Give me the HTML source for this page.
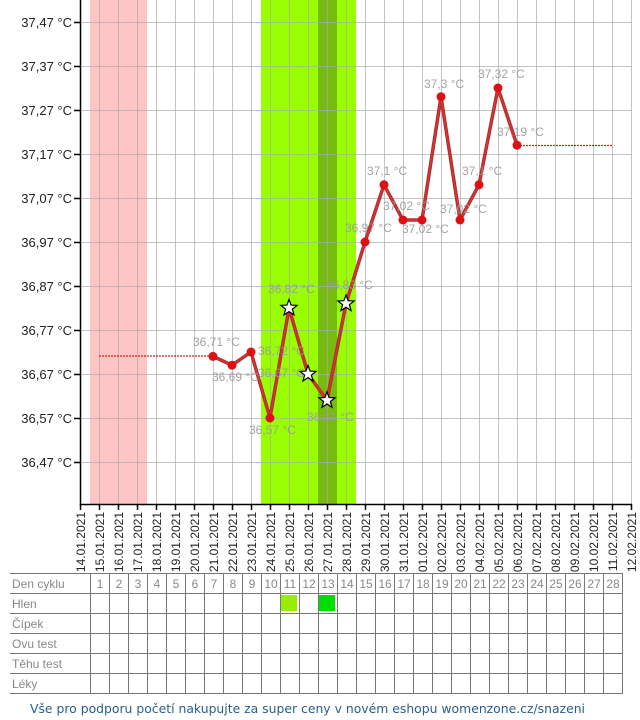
<!DOCTYPE html>
<html><head><meta charset="utf-8"><style>
html,body{margin:0;padding:0;background:#fff;}
svg{display:block;}
text{font-family:"Liberation Sans",Arial,sans-serif;}
</style></head><body>
<svg width="640" height="720" viewBox="0 0 640 720" xmlns="http://www.w3.org/2000/svg">
<defs><path id="st" d="M0,-8.5 L2.1,-2.9 8.1,-2.6 3.4,1.1 5,6.9 0,3.6 -5,6.9 -3.4,1.1 -8.1,-2.6 -2.1,-2.9Z" fill="#fff" stroke="#000" stroke-width="1.2"/></defs>
<rect x="90" y="0" width="57" height="504" fill="#ffc4c4"/>
<rect x="261" y="0" width="95" height="504" fill="#99ff00"/>
<rect x="318" y="0" width="19" height="504" fill="#77bb11"/>
<g stroke="#aaa" stroke-opacity="0.7" stroke-width="1" fill="none">
<path d="M99.5,0V504M118.5,0V504M137.5,0V504M156.5,0V504M175.5,0V504M194.5,0V504M213.5,0V504M232.5,0V504M251.5,0V504M270.5,0V504M289.5,0V504M308.5,0V504M327.5,0V504M346.5,0V504M365.5,0V504M384.5,0V504M403.5,0V504M422.5,0V504M441.5,0V504M460.5,0V504M479.5,0V504M498.5,0V504M517.5,0V504M536.5,0V504M555.5,0V504M574.5,0V504M593.5,0V504M612.5,0V504M631.5,0V504"/>
<path d="M80,22.5H632M80,66.5H632M80,110.5H632M80,154.5H632M80,198.5H632M80,242.5H632M80,286.5H632M80,330.5H632M80,374.5H632M80,418.5H632M80,462.5H632"/>
</g>
<g stroke="#000" stroke-width="1.5" fill="none">
<path d="M80.5,0V504.5H632"/>
<path d="M74,22.5H80M74,66.5H80M74,110.5H80M74,154.5H80M74,198.5H80M74,242.5H80M74,286.5H80M74,330.5H80M74,374.5H80M74,418.5H80M74,462.5H80"/>
<path d="M80.5,504V510M99.5,504V510M118.5,504V510M137.5,504V510M156.5,504V510M175.5,504V510M194.5,504V510M213.5,504V510M232.5,504V510M251.5,504V510M270.5,504V510M289.5,504V510M308.5,504V510M327.5,504V510M346.5,504V510M365.5,504V510M384.5,504V510M403.5,504V510M422.5,504V510M441.5,504V510M460.5,504V510M479.5,504V510M498.5,504V510M517.5,504V510M536.5,504V510M555.5,504V510M574.5,504V510M593.5,504V510M612.5,504V510M631.5,504V510"/>
</g>
<g font-size="13" fill="#222" text-anchor="end">
<text x="72" y="27">37,47 °C</text><text x="72" y="71">37,37 °C</text><text x="72" y="115">37,27 °C</text><text x="72" y="159">37,17 °C</text><text x="72" y="203">37,07 °C</text><text x="72" y="247">36,97 °C</text><text x="72" y="291">36,87 °C</text><text x="72" y="335">36,77 °C</text><text x="72" y="379">36,67 °C</text><text x="72" y="423">36,57 °C</text><text x="72" y="467">36,47 °C</text>
</g>
<g font-size="12" fill="#222" text-anchor="end">
<text transform="translate(85,512) rotate(-90)">14.01.2021</text>
<text transform="translate(104,512) rotate(-90)">15.01.2021</text>
<text transform="translate(123,512) rotate(-90)">16.01.2021</text>
<text transform="translate(142,512) rotate(-90)">17.01.2021</text>
<text transform="translate(161,512) rotate(-90)">18.01.2021</text>
<text transform="translate(180,512) rotate(-90)">19.01.2021</text>
<text transform="translate(199,512) rotate(-90)">20.01.2021</text>
<text transform="translate(218,512) rotate(-90)">21.01.2021</text>
<text transform="translate(237,512) rotate(-90)">22.01.2021</text>
<text transform="translate(256,512) rotate(-90)">23.01.2021</text>
<text transform="translate(275,512) rotate(-90)">24.01.2021</text>
<text transform="translate(294,512) rotate(-90)">25.01.2021</text>
<text transform="translate(313,512) rotate(-90)">26.01.2021</text>
<text transform="translate(332,512) rotate(-90)">27.01.2021</text>
<text transform="translate(351,512) rotate(-90)">28.01.2021</text>
<text transform="translate(370,512) rotate(-90)">29.01.2021</text>
<text transform="translate(389,512) rotate(-90)">30.01.2021</text>
<text transform="translate(408,512) rotate(-90)">31.01.2021</text>
<text transform="translate(427,512) rotate(-90)">01.02.2021</text>
<text transform="translate(446,512) rotate(-90)">02.02.2021</text>
<text transform="translate(465,512) rotate(-90)">03.02.2021</text>
<text transform="translate(484,512) rotate(-90)">04.02.2021</text>
<text transform="translate(503,512) rotate(-90)">05.02.2021</text>
<text transform="translate(522,512) rotate(-90)">06.02.2021</text>
<text transform="translate(541,512) rotate(-90)">07.02.2021</text>
<text transform="translate(560,512) rotate(-90)">08.02.2021</text>
<text transform="translate(579,512) rotate(-90)">09.02.2021</text>
<text transform="translate(598,512) rotate(-90)">10.02.2021</text>
<text transform="translate(617,512) rotate(-90)">11.02.2021</text>
<text transform="translate(636,512) rotate(-90)">12.02.2021</text>
</g>
<path d="M99,356H213M517,145.5H612" stroke="#cc2222" stroke-width="1.2" stroke-dasharray="2,1" fill="none"/>
<polyline points="213,356.4 232,365.2 251,352 270,418 289,308 308,374 327,400.4 346,303.6 365,242 384,184.8 403,220 422,220 441,96.8 460,220 479,184.8 498,88 517,145.2" fill="none" stroke="#a83030" stroke-width="3.5" stroke-linejoin="round"/>
<polyline points="213,356.4 232,365.2 251,352 270,418 289,308 308,374 327,400.4 346,303.6 365,242 384,184.8 403,220 422,220 441,96.8 460,220 479,184.8 498,88 517,145.2" fill="none" stroke="#dd3030" stroke-width="1.5" stroke-linejoin="round"/>
<g fill="#dd1111">
<circle cx="213" cy="356.4" r="4.5"/><circle cx="232" cy="365.2" r="4.5"/><circle cx="251" cy="352" r="4.5"/><circle cx="270" cy="418" r="4.5"/><circle cx="365" cy="242" r="4.5"/><circle cx="384" cy="184.8" r="4.5"/><circle cx="403" cy="220" r="4.5"/><circle cx="422" cy="220" r="4.5"/><circle cx="441" cy="96.8" r="4.5"/><circle cx="460" cy="220" r="4.5"/><circle cx="479" cy="184.8" r="4.5"/><circle cx="498" cy="88" r="4.5"/><circle cx="517" cy="145.2" r="4.5"/>
</g>
<use href="#st" x="289" y="308"/><use href="#st" x="308" y="374"/><use href="#st" x="327" y="400.4"/><use href="#st" x="346" y="303.6"/>
<g font-size="12" fill="#999" fill-opacity="0.9">
<text x="193" y="346">36,71 °C</text><text x="212" y="381">36,69 °C</text><text x="258" y="355">36,72 °C</text><text x="249" y="434">36,57 °C</text>
<text x="268" y="293">36,82 °C</text><text x="258" y="377">36,67 °C</text><text x="307" y="421">36,61 °C</text><text x="326" y="289">36,83 °C</text>
<text x="345" y="232">36,97 °C</text><text x="367" y="175">37,1 °C</text><text x="383" y="210">37,02 °C</text><text x="402" y="233">37,02 °C</text>
<text x="424" y="88">37,3 °C</text><text x="440" y="213">37,02 °C</text><text x="462" y="175">37,1 °C</text><text x="478" y="78">37,32 °C</text><text x="497" y="136">37,19 °C</text>
</g>
<rect x="281" y="595" width="16" height="16" fill="#99ee00"/>
<rect x="319" y="595" width="16" height="16" fill="#00dd00"/>
<g stroke="#777" stroke-width="1" fill="none">
<path d="M10,573.5H623M10,593.5H623M10,613.5H623M10,633.5H623M10,653.5H623M10,673.5H623M10,693.5H623"/>
<path d="M90.5,573V694M109.5,573V694M128.5,573V694M147.5,573V694M166.5,573V694M185.5,573V694M204.5,573V694M223.5,573V694M242.5,573V694M261.5,573V694M280.5,573V694M299.5,573V694M318.5,573V694M337.5,573V694M356.5,573V694M375.5,573V694M394.5,573V694M413.5,573V694M432.5,573V694M451.5,573V694M470.5,573V694M489.5,573V694M508.5,573V694M527.5,573V694M546.5,573V694M565.5,573V694M584.5,573V694M603.5,573V694M622.5,573V694"/>
</g>
<g font-size="12" fill="#888">
<text x="12" y="588">Den cyklu</text><text x="12" y="608">Hlen</text><text x="12" y="628">Čípek</text><text x="12" y="648">Ovu test</text><text x="12" y="668">Těhu test</text><text x="12" y="688">Léky</text>
</g>
<g font-size="12" fill="#888" text-anchor="middle">
<text x="100" y="588">1</text><text x="119" y="588">2</text><text x="138" y="588">3</text><text x="157" y="588">4</text><text x="176" y="588">5</text><text x="195" y="588">6</text><text x="214" y="588">7</text><text x="233" y="588">8</text><text x="252" y="588">9</text><text x="271" y="588">10</text><text x="290" y="588">11</text><text x="309" y="588">12</text><text x="328" y="588">13</text><text x="347" y="588">14</text><text x="366" y="588">15</text><text x="385" y="588">16</text><text x="404" y="588">17</text><text x="423" y="588">18</text><text x="442" y="588">19</text><text x="461" y="588">20</text><text x="480" y="588">21</text><text x="499" y="588">22</text><text x="518" y="588">23</text><text x="537" y="588">24</text><text x="556" y="588">25</text><text x="575" y="588">26</text><text x="594" y="588">27</text><text x="613" y="588">28</text>
</g>
<text x="30" y="713" font-size="12" fill="#2a5d8a" style="font-family:'DejaVu Sans',sans-serif" textLength="555" lengthAdjust="spacingAndGlyphs">Vše pro podporu početí nakupujte za super ceny v novém eshopu womenzone.cz/snazeni</text>
</svg>
</body></html>
